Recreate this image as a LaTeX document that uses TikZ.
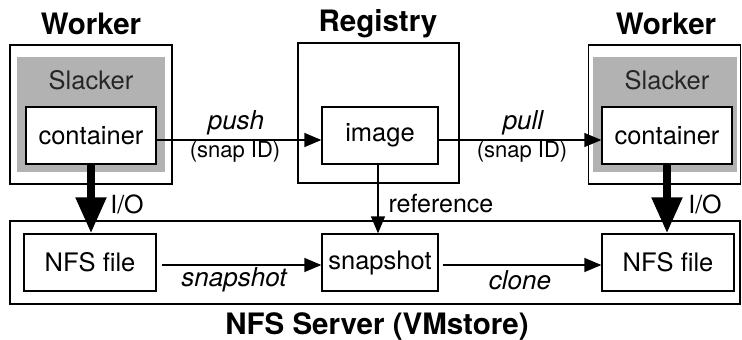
\documentclass[tikz,border=0pt]{standalone}
\usepackage{fontspec}
\setmainfont{TeX Gyre Heros}
\usetikzlibrary{arrows.meta}
\begin{document}
\begin{tikzpicture}[x=1pt,y=-1pt,
  box/.style={draw,line width=1.3pt,inner sep=0pt,font=\fontsize{25.5}{28}\selectfont},
  outer/.style={draw,line width=1.3pt,inner sep=0pt},
  gray/.style={fill=black!30,inner sep=0pt},
  title/.style={font=\fontsize{29.5}{32}\selectfont\bfseries},
  lab/.style={font=\fontsize{26}{28}\selectfont\itshape},
  sml/.style={font=\fontsize{22}{24}\selectfont},
  mid/.style={font=\fontsize{25}{27}\selectfont},
  thin/.style={line width=1.3pt,-{Triangle[length=17pt,width=14pt]}},
  thick/.style={line width=8pt,-{Triangle[length=36pt,width=29pt]}}]
\useasboundingbox (0,0) rectangle (742,340);
% titles
\node[title] (tW1) at (91,24) {Worker};
\node[title] (tR) at (378,24) {Registry};
\node[title] (tW2) at (666,24) {Worker};
% worker left
\node[outer,minimum width=162pt,minimum height=139pt] (w1) at (91,114.5) {};
\node[gray,minimum width=148pt,minimum height=115pt] (g1) at (91,114.5) {};
\node[font=\fontsize{25.5}{28}\selectfont,text=black!85] (s1) at (91,80) {Slacker};
\node[box,fill=white,minimum width=130pt,minimum height=57pt] (c1) at (91,135.5) {container};
% registry
\node[outer,minimum width=161pt,minimum height=140pt] (reg) at (378.5,113) {};
\node[box,minimum width=116pt,minimum height=57pt] (img) at (380,135.5) {image};
% worker right
\node[outer,minimum width=152pt,minimum height=139pt] (w2) at (664.5,114.5) {};
\node[gray,minimum width=144pt,minimum height=115pt] (g2) at (665,114.5) {};
\node[font=\fontsize{25.5}{28}\selectfont,text=black!85] (s2) at (667,80) {Slacker};
\node[box,fill=white,minimum width=130pt,minimum height=57pt] (c2) at (667,135.5) {container};
% server
\node[outer,minimum width=730pt,minimum height=83pt] (srv) at (375,262.5) {};
\node[box,minimum width=132pt,minimum height=57pt] (f1) at (90,262.5) {NFS file};
\node[box,minimum width=116pt,minimum height=57pt] (snap) at (380,262.5) {snapshot};
\node[box,minimum width=132pt,minimum height=57pt] (f2) at (668,262.5) {NFS file};
\node[title] (tS) at (377,327) {NFS Server (VMstore)};
% arrows
\draw[thin] ([yshift=-4.5pt]c1.east) -- ([yshift=-4.5pt]img.west);
\node[lab] (lpush) at (236,123) {push};
\node[sml] (lsid1) at (235,152) {(snap ID)};
\draw[thin] ([yshift=-4.5pt]img.east) -- ([yshift=-4.5pt]c2.west);
\node[lab] (lpull) at (523,123) {pull};
\node[sml] (lsid2) at (522,152) {(snap ID)};
\draw[thin] ([xshift=5pt,yshift=-2.5pt]f1.east) -- ([yshift=-2.5pt]snap.west);
\node[lab] (lsnap) at (234,280) {snapshot};
\draw[thin] ([xshift=4pt,yshift=-2.5pt]snap.east) -- ([yshift=-2.5pt]f2.west);
\node[lab] (lclone) at (520,280) {clone};
\draw[thin] ([xshift=-2pt]img.south) -- ([xshift=-2pt]snap.north);
\node[mid] (lref) at (441,204) {reference};
\draw[thick] (c1.south) -- (c1.south |- f1.north);
\node[mid] (lio1) at (127,204) {I/O};
\draw[thick] (c2.south) -- (c2.south |- f2.north);
\node[mid] (lio2) at (705,204) {I/O};
\end{tikzpicture}
\end{document}
